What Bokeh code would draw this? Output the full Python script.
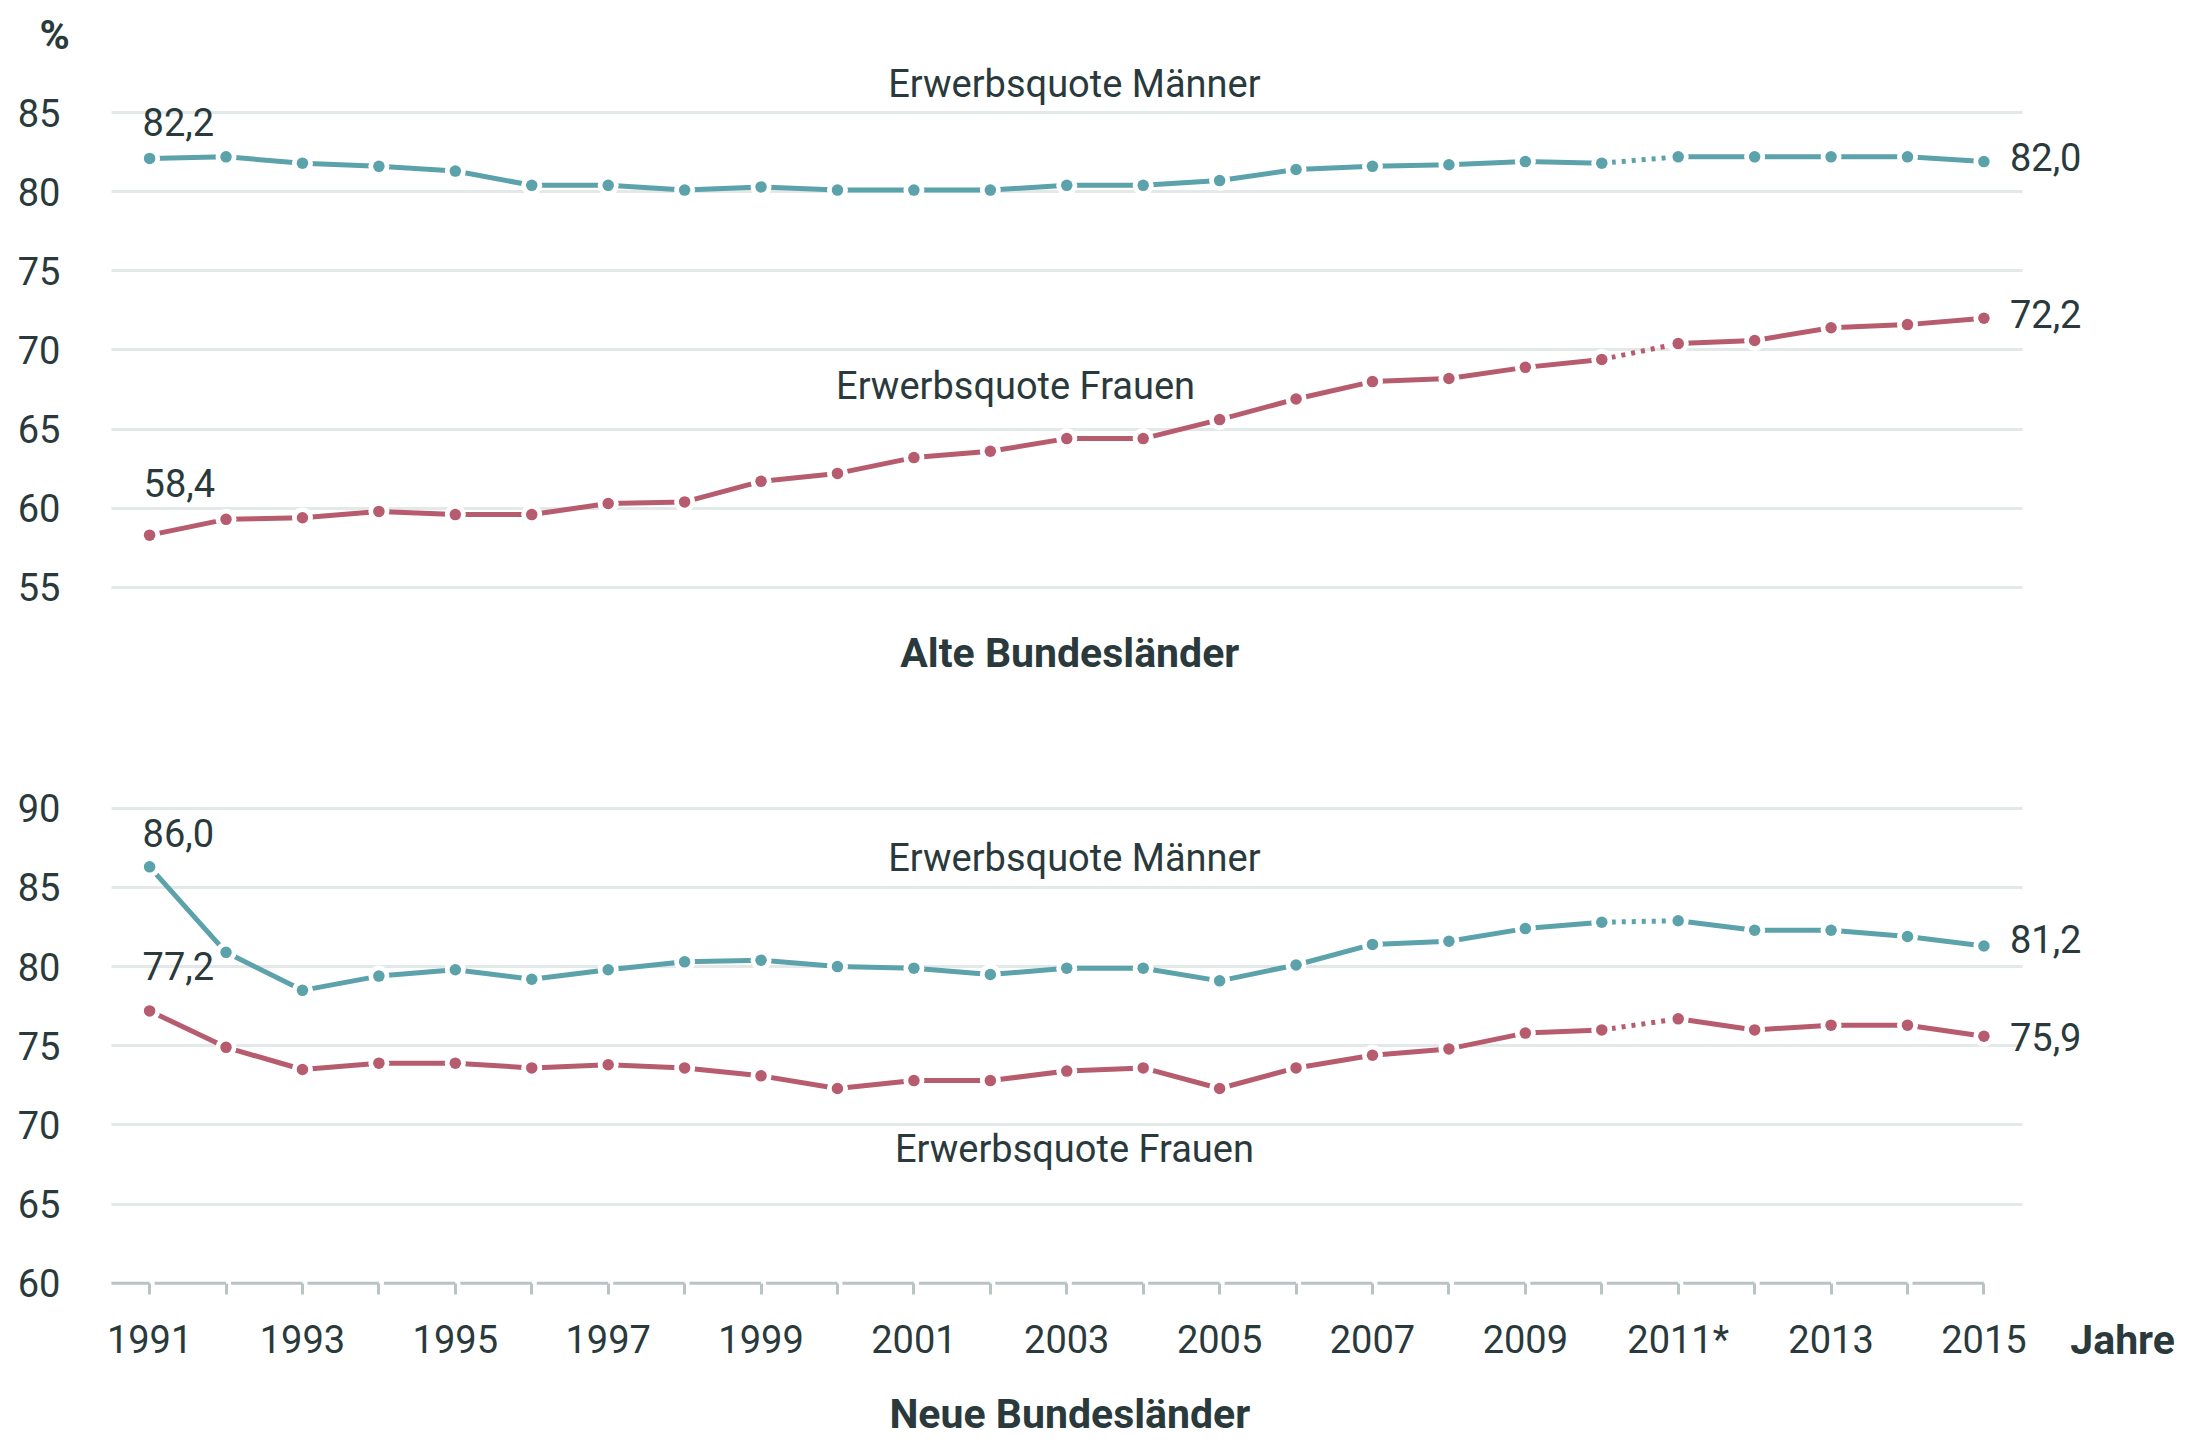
from bokeh.plotting import figure
from bokeh.layouts import column
from bokeh.models import Range1d, FixedTicker, Label
from bokeh.embed import file_html
from bokeh.resources import INLINE
from bokeh.core.properties import value

# ---------------- data ----------------
years = list(range(1991, 2016))
year_labels = ["1991", "", "1993", "", "1995", "", "1997", "", "1999", "", "2001", "",
               "2003", "", "2005", "", "2007", "", "2009", "", "2011*", "", "2013", "", "2015"]

alte_maenner = [82.1, 82.2, 81.8, 81.6, 81.3, 80.4, 80.4, 80.1, 80.3, 80.1, 80.1, 80.1, 80.4,
                80.4, 80.7, 81.4, 81.6, 81.7, 81.9, 81.8, 82.2, 82.2, 82.2, 82.2, 81.9]
alte_frauen = [58.3, 59.3, 59.4, 59.8, 59.6, 59.6, 60.3, 60.4, 61.7, 62.2, 63.2, 63.6, 64.4,
               64.4, 65.6, 66.9, 68.0, 68.2, 68.9, 69.4, 70.4, 70.6, 71.4, 71.6, 72.0]
neue_maenner = [86.3, 80.9, 78.5, 79.4, 79.8, 79.2, 79.8, 80.3, 80.4, 80.0, 79.9, 79.5, 79.9,
                79.9, 79.1, 80.1, 81.4, 81.6, 82.4, 82.8, 82.9, 82.3, 82.3, 81.9, 81.3]
neue_frauen = [77.2, 74.9, 73.5, 73.9, 73.9, 73.6, 73.8, 73.6, 73.1, 72.3, 72.8, 72.8, 73.4,
               73.6, 72.3, 73.6, 74.4, 74.8, 75.8, 76.0, 76.7, 76.0, 76.3, 76.3, 75.6]

alte_ticks = [55, 60, 65, 70, 75, 80, 85]
neue_ticks = [60, 65, 70, 75, 80, 85, 90]

alte_start_labels = ["82,2", "58,4"]
alte_end_labels = ["82,0", "72,2"]
neue_start_labels = ["86,0", "77,2"]
neue_end_labels = ["81,2", "75,9"]

series_m = "Erwerbsquote Männer"
series_f = "Erwerbsquote Frauen"
title_alte = "Alte Bundesländer"
title_neue = "Neue Bundesländer"
unit_text = "%"
x_title = "Jahre"

break_from, break_to = 2010, 2011   # dotted connection between these years

# ---------------- style / geometry ----------------
FONT = "Roboto"
TEAL = "#5ca2ab"
ROSE = "#b65c6e"
TEXT = "#2a3a3c"
GRID = "#e3e8e8"
AXIS = "#b9c3c4"
FS = "38px"
FS_B = "41px"
LW = 5

W = 2180
H1, H2 = 700, 741
PX_X = 76.43                       # px per year
PX_Y = 15.83                       # px per percentage point
x_lo = 1991 - 149.1 / PX_X
x_hi = x_lo + W / PX_X
plot_x0, plot_x1 = 1990.5, 2015.5  # extent of the grid area

top_hi = 85 + 112 / PX_Y
top_lo = top_hi - H1 / PX_Y
bot_hi = 90 + (807.8 - H1) / PX_Y
bot_lo = bot_hi - H2 / PX_Y


def make_fig(y_lo, y_hi, height, ticks, grid_ticks, show_x):
    p = figure(width=W, height=height, title=None,
               x_range=Range1d(x_lo, x_hi), y_range=Range1d(y_lo, y_hi),
               output_backend="svg", toolbar_location=None,
               x_axis_location="below" if show_x else None, min_border=0)
    p.outline_line_color = None
    p.background_fill_color = "white"
    p.border_fill_color = "white"
    p.xgrid.grid_line_color = None
    g = p.ygrid[0]
    if hasattr(g, "cross_bounds"):
        g.ticker = FixedTicker(ticks=grid_ticks)
        g.cross_bounds = (plot_x0, plot_x1)
        g.grid_line_color = GRID
        g.grid_line_width = 3
    else:
        g.grid_line_color = None
        p.segment(x0=[plot_x0] * len(grid_ticks), x1=[plot_x1] * len(grid_ticks),
                  y0=grid_ticks, y1=grid_ticks, line_color=GRID, line_width=3)
    ya = p.yaxis[0]
    ya.fixed_location = plot_x0
    ya.ticker = FixedTicker(ticks=ticks)
    ya.axis_line_color = None
    ya.major_tick_line_color = None
    ya.minor_tick_line_color = None
    ya.major_tick_out = 0
    ya.major_tick_in = 0
    ya.major_label_standoff = 51
    ya.major_label_text_font = FONT
    ya.major_label_text_font_size = FS
    ya.major_label_text_color = TEXT
    return p


def draw_series(p, vals, color):
    i0 = years.index(break_from)
    i1 = years.index(break_to)
    p.line(years[:i0 + 1], vals[:i0 + 1], line_color=color, line_width=LW, line_join="round")
    p.line(years[i0:i1 + 1], vals[i0:i1 + 1], line_color=color, line_width=LW,
           line_dash="4 6")
    p.line(years[i1:], vals[i1:], line_color=color, line_width=LW, line_join="round")
    p.scatter(years, vals, size=21, fill_color="white", line_color=None)
    p.scatter(years, vals, size=11.5, fill_color=color, line_color=None)


def label(p, x, y, text, dx=0, dy=0, bold=False, size=FS):
    p.add_layout(Label(x=x, y=y, text=text, x_offset=dx, y_offset=dy,
                       text_align="left", text_baseline="middle",
                       text_font=FONT, text_font_size=size,
                       text_font_style="bold" if bold else "normal", text_color=TEXT))


def center_text(p, x, y, texts, bold=False, size=FS):
    p.text(x=x, y=y, text=texts, text_align="center", text_baseline="middle",
           text_font=value(FONT), text_font_size=size,
           text_font_style="bold" if bold else "normal", text_color=TEXT)


# ---------------- top panel: Alte Bundesländer ----------------
top = make_fig(top_lo, top_hi, H1, alte_ticks, alte_ticks, False)
draw_series(top, alte_maenner, TEAL)
draw_series(top, alte_frauen, ROSE)
center_text(top, [2003.1, 2002.33], [86.80, 67.72], [series_m, series_f])
center_text(top, [2003.04], [50.83], [title_alte], bold=True, size=FS_B)
label(top, years[0], alte_maenner[0], alte_start_labels[0], -7, 36)
label(top, years[0], alte_frauen[0], alte_start_labels[1], -6, 51.8)
label(top, years[-1], alte_maenner[-1], alte_end_labels[0], 26, 5)
label(top, years[-1], alte_frauen[-1], alte_end_labels[1], 26, 4.5)
label(top, x_lo + 39 / PX_X, 89.9, unit_text, bold=True, size=FS_B)

# ---------------- bottom panel: Neue Bundesländer ----------------
bot = make_fig(bot_lo, bot_hi, H2, neue_ticks, neue_ticks[1:], True)
base = neue_ticks[0]
gap = 5 / PX_X
bot.segment(x0=[plot_x0] + [y + gap for y in years[:-1]], y0=[base] * len(years),
            x1=years, y1=[base] * len(years), line_color=AXIS, line_width=3)
draw_series(bot, neue_maenner, TEAL)
draw_series(bot, neue_frauen, ROSE)
center_text(bot, [2003.1, 2003.1], [86.83, 68.48], [series_m, series_f])
center_text(bot, [2003.04], [51.75], [title_neue], bold=True, size=FS_B)
label(bot, years[0], neue_maenner[0], neue_start_labels[0], -7, 33.5)
label(bot, years[0], neue_frauen[0], neue_start_labels[1], -7, 45)
label(bot, years[-1], neue_maenner[-1], neue_end_labels[0], 26, 7)
label(bot, years[-1], neue_frauen[-1], neue_end_labels[1], 26, -1)
label(bot, 2016.13, 56.4, x_title, bold=True, size=FS_B)

xa = bot.xaxis[0]
xa.fixed_location = base
xa.ticker = FixedTicker(ticks=years)
xa.major_label_overrides = {y: l for y, l in zip(years, year_labels)}
xa.axis_line_color = None
xa.minor_tick_line_color = None
xa.major_tick_line_color = AXIS
xa.major_tick_line_width = 3
xa.major_tick_out = 11
xa.major_tick_in = 0
xa.major_label_standoff = 24
xa.major_label_text_font = FONT
xa.major_label_text_font_size = FS
xa.major_label_text_color = TEXT

layout = column(top, bot, spacing=0)
open("out.html", "w").write(file_html(layout, INLINE))
